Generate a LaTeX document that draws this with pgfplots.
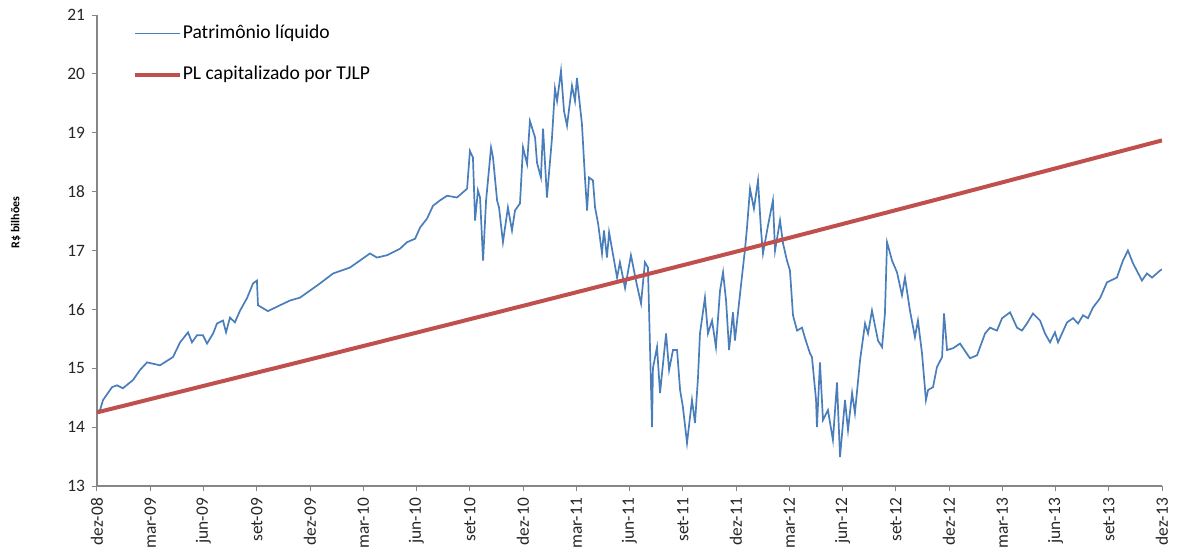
\documentclass[border=0pt]{standalone}
\usepackage{pgfplots}
\pgfplotsset{compat=1.18}
\usepackage{fontspec}
\setmainfont{Carlito}
\definecolor{plblue}{RGB}{74,126,187}
\definecolor{plred}{RGB}{192,80,77}
\definecolor{axgray}{RGB}{134,134,134}

\begin{document}
\begin{tikzpicture}
\begin{axis}[
  width=532.5pt, height=235.5pt, scale only axis,
  xmin=0, xmax=60, ymin=13, ymax=21,
  axis x line*=bottom, axis y line*=left,
  axis line style={draw=axgray, line width=0.6pt, -},
  tick align=outside,
  major tick length=2.5pt,
  tick style={draw=axgray, line width=0.5pt},
  xtick={0,3,...,60},
  xticklabels={dez-08,mar-09,jun-09,set-09,dez-09,mar-10,jun-10,set-10,dez-10,mar-11,jun-11,set-11,dez-11,mar-12,jun-12,set-12,dez-12,mar-13,jun-13,set-13,dez-13},
  ytick={13,14,...,21},
  /pgf/number format/assume math mode=true,
  tick label style={font=\fontsize{8.7}{10}\selectfont, text=black!85},
  x tick label style={rotate=90, anchor=east},
  ylabel={R\$ bilhões},
  ylabel style={font=\bfseries\fontsize{6}{7}\selectfont, at={(axis description cs:-0.065,0.56)}},
  legend style={at={(rel axis cs:0.028,0.99)}, anchor=north west, draw=none, fill=none,
    font=\fontsize{9.8}{11}\selectfont, row sep=11pt, nodes={inner sep=0.6pt}},
  legend cell align=left,
  legend image code/.code={\draw[#1] (0cm,0cm) -- (0.78cm,0cm);},
]
\addplot[plblue, line width=0.85pt] coordinates {
(0.00,14.27) (0.17,14.29) (0.34,14.46) (0.85,14.68) (1.13,14.71) (1.46,14.66)
(2.03,14.80) (2.42,14.97) (2.82,15.10) (3.55,15.05) (4.28,15.19) (4.68,15.44)
(5.13,15.61) (5.35,15.44) (5.63,15.56) (5.97,15.56) (6.20,15.42) (6.54,15.59)
(6.76,15.76) (7.10,15.81) (7.27,15.61) (7.49,15.86) (7.77,15.78) (8.06,15.98)
(8.45,16.19) (8.79,16.44) (9.01,16.49) (9.07,16.07) (9.35,16.02) (9.63,15.97)
(10.31,16.07) (10.87,16.15) (11.44,16.20) (12.00,16.32) (12.56,16.44) (13.30,16.61)
(14.25,16.71) (15.38,16.95) (15.77,16.88) (16.34,16.92) (17.07,17.03) (17.46,17.14)
(17.92,17.20) (18.20,17.39) (18.59,17.54) (18.93,17.76) (19.32,17.85) (19.72,17.93)
(20.28,17.90) (20.85,18.05) (21.01,18.69) (21.18,18.58) (21.30,17.51) (21.46,18.02)
(21.58,17.90) (21.75,16.83) (21.92,17.85) (22.20,18.75) (22.31,18.58) (22.54,17.85)
(22.65,17.73) (22.87,17.14) (23.15,17.73) (23.38,17.34) (23.55,17.68) (23.83,17.80)
(24.00,18.75) (24.23,18.47) (24.39,19.20) (24.68,18.92) (24.79,18.49) (25.01,18.24)
(25.13,19.07) (25.35,17.90) (25.63,18.90) (25.80,19.75) (25.92,19.54) (26.14,20.05)
(26.31,19.37) (26.48,19.12) (26.76,19.80) (26.93,19.54) (27.04,19.93) (27.32,19.15)
(27.49,18.24) (27.61,17.68) (27.72,18.24) (27.94,18.19) (28.06,17.73) (28.23,17.46)
(28.45,16.95) (28.56,17.34) (28.73,16.88) (28.85,17.31) (29.30,16.54) (29.46,16.80)
(29.75,16.36) (30.08,16.92) (30.42,16.41) (30.65,16.10) (30.87,16.80) (31.04,16.71)
(31.27,14.00) (31.32,15.00) (31.55,15.36) (31.72,14.58) (32.06,15.59) (32.23,14.97)
(32.45,15.31) (32.68,15.31) (32.85,14.63) (33.01,14.34) (33.24,13.73) (33.52,14.46)
(33.69,14.07) (33.86,14.85) (33.97,15.59) (34.25,16.20) (34.42,15.59) (34.65,15.81)
(34.87,15.36) (35.10,16.32) (35.27,16.63) (35.44,16.15) (35.61,15.31) (35.83,15.95)
(35.94,15.47) (36.23,16.27) (36.51,17.03) (36.62,17.39) (36.79,18.05) (37.01,17.71)
(37.24,18.19) (37.41,17.34) (37.52,16.95) (37.80,17.42) (38.08,17.85) (38.20,17.00)
(38.48,17.51) (38.65,17.12) (38.87,16.83) (39.04,16.66) (39.21,15.90) (39.44,15.64)
(39.72,15.69) (39.89,15.51) (40.17,15.25) (40.28,15.19) (40.51,14.46) (40.56,14.00)
(40.73,15.10) (40.90,14.12) (41.18,14.29) (41.46,13.78) (41.69,14.76) (41.86,13.49)
(42.14,14.46) (42.31,13.95) (42.54,14.58) (42.70,14.24) (42.99,15.14) (43.27,15.76)
(43.44,15.59) (43.66,15.98) (44.00,15.47) (44.23,15.36) (44.39,15.93) (44.51,17.14)
(44.79,16.83) (45.07,16.63) (45.35,16.24) (45.52,16.54) (45.80,15.98) (46.08,15.53)
(46.25,15.81) (46.48,15.25) (46.70,14.46) (46.82,14.63) (47.10,14.68) (47.32,15.02)
(47.61,15.19) (47.72,15.93) (47.89,15.31) (48.23,15.34) (48.62,15.42) (49.18,15.17)
(49.58,15.22) (50.03,15.59) (50.31,15.69) (50.70,15.64) (50.99,15.85) (51.44,15.95)
(51.83,15.69) (52.11,15.64) (52.39,15.76) (52.73,15.93) (53.13,15.81) (53.41,15.59)
(53.69,15.44) (53.97,15.61) (54.14,15.44) (54.65,15.78) (54.99,15.85) (55.27,15.76)
(55.55,15.90) (55.83,15.85) (56.11,16.03) (56.51,16.19) (56.90,16.46) (57.46,16.54)
(57.80,16.83) (58.08,17.00) (58.37,16.78) (58.87,16.49) (59.15,16.61) (59.44,16.54)
(59.89,16.66) (60.00,16.68)
};
\addlegendentry{Patrimônio líquido}
\addplot[plred, line width=2pt] coordinates {
(0,14.25) (12,15.15) (24,16.06) (36,16.98) (48,17.92) (60,18.87)
};
\addlegendentry{PL capitalizado por TJLP}
\end{axis}
\pgfresetboundingbox
\path[use as bounding box] ([shift={(-48.5pt,-36pt)}]current axis.south west)
  rectangle ([shift={(7.5pt,7.5pt)}]current axis.north east);
\end{tikzpicture}
\end{document}
